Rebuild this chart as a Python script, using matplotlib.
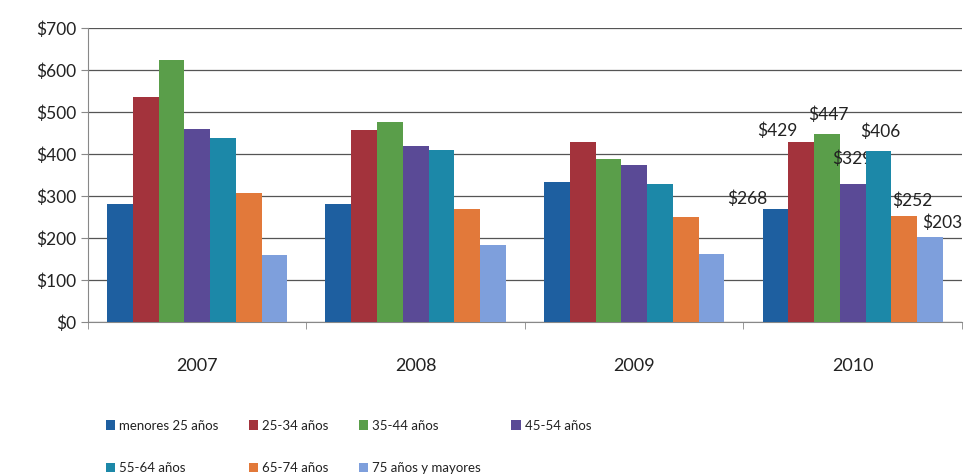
import numpy as np
import matplotlib
matplotlib.use('Agg')
import matplotlib.pyplot as plt
from matplotlib.ticker import FuncFormatter, FixedLocator

plt.rcParams['font.family'] = ['Lato', 'DejaVu Sans']

# Datos
anios = ['2007', '2008', '2009', '2010']
grupos = ['menores 25 años', '25-34 años', '35-44 años', '45-54 años',
          '55-64 años', '65-74 años', '75 años y mayores']
valores = [
    [280, 282, 333, 268],   # menores 25
    [536, 458, 429, 429],   # 25-34
    [624, 477, 389, 447],   # 35-44
    [460, 418, 373, 329],   # 45-54
    [437, 410, 328, 406],   # 55-64
    [308, 268, 251, 252],   # 65-74
    [159, 183, 162, 203],   # 75+
]
colores = ['#1E5FA0', '#A3333C', '#5A9E4A', '#5A4A96', '#1C88A8', '#E2793A', '#7E9FDC']

# desplazamiento (puntos) de las etiquetas de 2010
despl = [(-20, 8), (-17, 8), (1, 14), (0, 18), (1, 14), (6, 11), (9, 10)]

fig = plt.figure(figsize=(9.73, 4.74), dpi=100)
ax = fig.add_axes([0.0904, 0.3207, 0.8983, 0.6203])

x = np.arange(len(anios))
ancho = 0.118
handles = []
for i, (g, vals) in enumerate(zip(grupos, valores)):
    pos = x + (i - 3) * ancho
    b = ax.bar(pos, vals, width=ancho, color=colores[i], label=g, zorder=3 + i)
    handles.append(b)
    # etiqueta solo en 2010
    ax.annotate('$%d' % vals[-1], (pos[-1], vals[-1]), xytext=despl[i],
                textcoords='offset points', ha='center', va='center',
                fontsize=12.5, color='#222222', zorder=3.5 + i)

ax.set_xlim(-0.5, 3.5)
ax.set_ylim(0, 700)
ax.set_yticks(range(0, 701, 100))
ax.yaxis.set_major_formatter(FuncFormatter(lambda v, p: '$%d' % v))
ax.yaxis.grid(True, color='#555555', linewidth=0.9, zorder=0)
ax.set_axisbelow(True)

ax.set_xticks(x)
ax.set_xticklabels(anios, fontsize=13, color='#222222')
ax.tick_params(axis='x', which='major', length=0, pad=26)
ax.xaxis.set_minor_locator(FixedLocator(np.arange(-0.5, 4, 1)))
ax.tick_params(axis='x', which='minor', length=5, color='#888888', direction='out')
ax.tick_params(axis='y', labelsize=12.5, labelcolor='#222222', length=5, color='#888888')

for s in ['top', 'right']:
    ax.spines[s].set_visible(False)
for s in ['left', 'bottom']:
    ax.spines[s].set_color('#888888')

orden = [0, 4, 1, 5, 2, 6, 3]
fig.legend([handles[k] for k in orden], [grupos[k] for k in orden],
           ncol=4, loc='upper left', bbox_to_anchor=(0.097, 0.14),
           frameon=False, fontsize=9.5, handlelength=0.7, handleheight=0.7,
           handletextpad=0.3, columnspacing=2.3, labelspacing=2.3,
           labelcolor='#222222')

fig.savefig('out.png', dpi=100)
